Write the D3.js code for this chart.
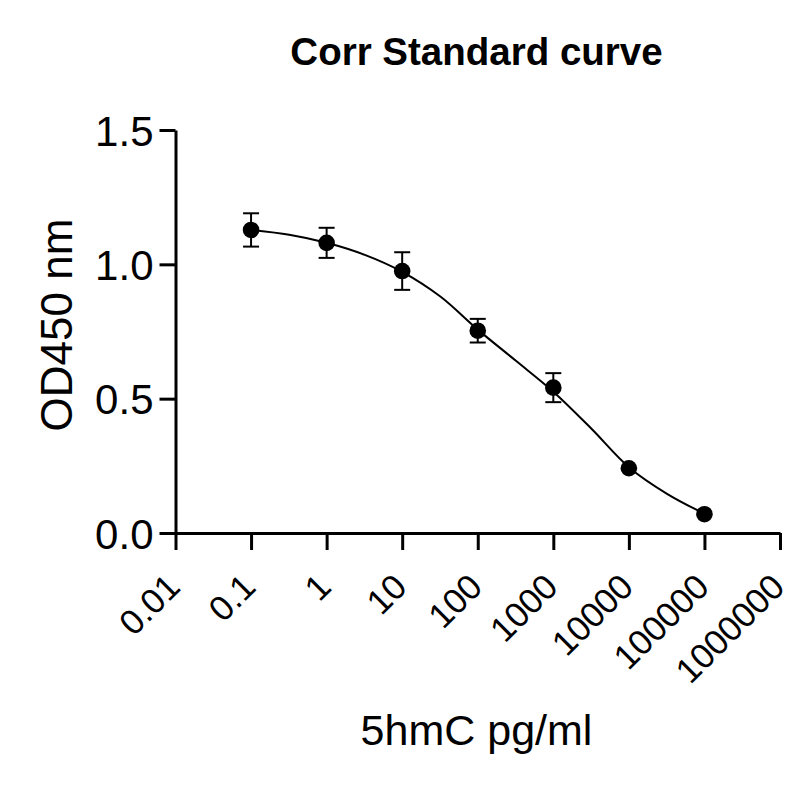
<!DOCTYPE html>
<html>
<head>
<meta charset="utf-8">
<script src="https://cdn.jsdelivr.net/npm/d3@7"></script>
<style>
  body { margin: 0; background: #fff; }
  svg text { font-family: "Liberation Sans", Arial, sans-serif; fill: #000; }
</style>
</head>
<body>
<svg id="chart" width="800" height="785"></svg>
<script>
const concentrations = [0.1, 1, 10, 100, 1000, 10000, 100000];
const odMean = [1.128, 1.080, 0.975, 0.753, 0.541, 0.241, 0.070];
const odErr = [0.062, 0.056, 0.070, 0.044, 0.054, 0, 0];

const fitConc = [0.1, 0.32, 1, 3.2, 10, 32, 100, 320, 1000, 3200, 10000, 32000, 100000];
const fitOD = [1.128, 1.110, 1.080, 1.035, 0.972, 0.880, 0.757, 0.641, 0.526, 0.388, 0.245, 0.146, 0.072];

const xTicks = [0.01, 0.1, 1, 10, 100, 1000, 10000, 100000, 1000000];
const xTickLabels = ["0.01", "0.1", "1", "10", "100", "1000", "10000", "100000", "1000000"];
const yTicks = [0, 0.5, 1.0, 1.5];

const svg = d3.select("#chart");

const x = d3.scaleLog().domain([0.01, 1000000]).range([175.5, 780]);
const y = d3.scaleLinear().domain([0, 1.5]).range([533, 130]);

// title
svg.append("text")
  .attr("x", 476.5)
  .attr("y", 65)
  .attr("text-anchor", "middle")
  .style("font-size", "38.5px")
  .style("font-weight", "bold")
  .text("Corr Standard curve");

// x axis
const xAxis = svg.append("g")
  .attr("transform", `translate(0,${y(0)})`)
  .call(d3.axisBottom(x)
    .tickValues(xTicks)
    .tickFormat((d, i) => xTickLabels[i])
    .tickSizeInner(17)
    .tickSizeOuter(0));

xAxis.select(".domain").attr("stroke", "#000").attr("stroke-width", 3);
xAxis.selectAll(".tick line").attr("stroke", "#000").attr("stroke-width", 3);
xAxis.selectAll(".tick text")
  .attr("x", 0)
  .attr("y", 0)
  .attr("dy", null)
  .attr("text-anchor", "end")
  .attr("transform", "translate(6,56) rotate(-45)")
  .style("font-size", "35px")
  .style("font-family", '"Liberation Sans", Arial, sans-serif');

// y axis
const yAxis = svg.append("g")
  .attr("transform", `translate(${x(0.01)},0)`)
  .call(d3.axisLeft(y)
    .tickValues(yTicks)
    .tickFormat(d3.format(".1f"))
    .tickSizeInner(16)
    .tickSizeOuter(0)
    .tickPadding(6));

yAxis.select(".domain").attr("stroke", "#000").attr("stroke-width", 3);
yAxis.selectAll(".tick line").attr("stroke", "#000").attr("stroke-width", 3);
yAxis.selectAll(".tick text")
  .attr("dy", "0.36em")
  .style("font-size", "42px")
  .style("font-family", '"Liberation Sans", Arial, sans-serif');

// axis titles
svg.append("text")
  .attr("x", 476.5)
  .attr("y", 745)
  .attr("text-anchor", "middle")
  .style("font-size", "43px")
  .text("5hmC pg/ml");

svg.append("text")
  .attr("transform", "translate(72,325) rotate(-90)")
  .attr("text-anchor", "middle")
  .style("font-size", "44px")
  .text("OD450 nm");

// fitted curve
const line = d3.line()
  .x((d, i) => x(fitConc[i]))
  .y((d) => y(d))
  .curve(d3.curveCatmullRom.alpha(0.5));

svg.append("path")
  .datum(fitOD)
  .attr("d", line)
  .attr("fill", "none")
  .attr("stroke", "#000")
  .attr("stroke-width", 2);

// error bars
const points = concentrations.map((c, i) => ({ c, m: odMean[i], e: odErr[i] }));
const errGrp = svg.append("g").attr("class", "error_bars");
const withErr = points.filter((d) => d.e > 0);

errGrp.selectAll(".err_v")
  .data(withErr)
  .enter()
  .append("line")
  .attr("x1", (d) => x(d.c))
  .attr("x2", (d) => x(d.c))
  .attr("y1", (d) => y(d.m + d.e))
  .attr("y2", (d) => y(d.m - d.e))
  .attr("stroke", "#000")
  .attr("stroke-width", 2);

[1, -1].forEach((s) => {
  errGrp.selectAll(".err_cap" + s)
    .data(withErr)
    .enter()
    .append("line")
    .attr("x1", (d) => x(d.c) - 8)
    .attr("x2", (d) => x(d.c) + 8)
    .attr("y1", (d) => y(d.m + s * d.e))
    .attr("y2", (d) => y(d.m + s * d.e))
    .attr("stroke", "#000")
    .attr("stroke-width", 2);
});

// dots
svg.append("g")
  .selectAll("circle")
  .data(points)
  .enter()
  .append("circle")
  .attr("cx", (d) => x(d.c))
  .attr("cy", (d) => y(d.m))
  .attr("r", 8.3)
  .attr("fill", "#000");
</script>
</body>
</html>
